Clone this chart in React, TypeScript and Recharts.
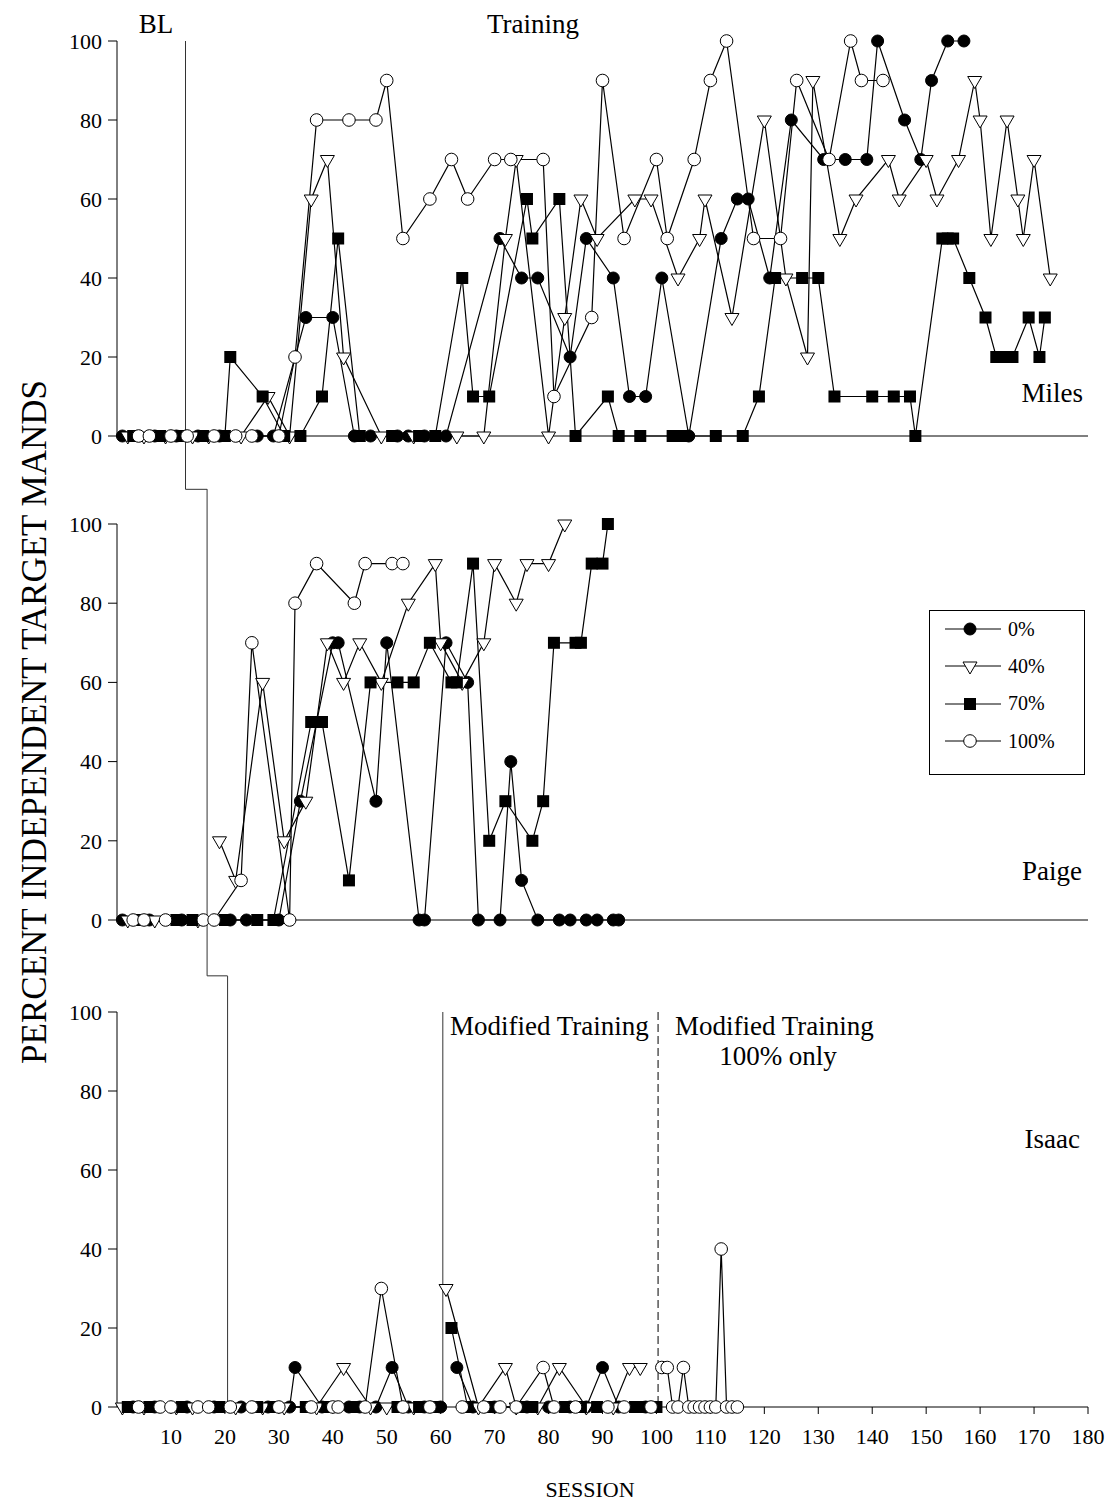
import React from 'react';
import { LineChart, Line, XAxis, YAxis, ReferenceLine } from 'recharts';

type Pt = [number, number];

const FONT = '"Liberation Serif", "Times New Roman", serif';

const conditions = ['0%', '40%', '70%', '100%'];
const xTicks = [10, 20, 30, 40, 50, 60, 70, 80, 90, 100, 110, 120, 130, 140, 150, 160, 170, 180];
const yTicks = [0, 20, 40, 60, 80, 100];

// Miles
const miles0: Pt[] = [[1, 0], [7, 0], [11, 0], [15, 0], [19, 0], [26, 0], [29, 0], [35, 30], [40, 30], [44, 0], [47, 0], [52, 0], [54, 0], [57, 0], [61, 0], [71, 50], [75, 40], [78, 40], [84, 20], [87, 50], [92, 40], [95, 10], [98, 10], [101, 40], [106, 0], [112, 50], [115, 60], [117, 60], [121, 40], [125, 80], [131, 70], [135, 70], [139, 70], [141, 100], [146, 80], [149, 70], [151, 90], [154, 100], [157, 100]];
const miles40: Pt[] = [[2, 0], [5, 0], [9, 0], [14, 0], [17, 0], [23, 0], [28, 10], [32, 0], [36, 60], [39, 70], [42, 20], [49, 0], [55, 0], [63, 0], [68, 0], [72, 50], [74, 70], [80, 0], [83, 30], [86, 60], [89, 50], [96, 60], [99, 60], [104, 40], [108, 50], [109, 60], [114, 30], [120, 80], [124, 40], [128, 20], [129, 90], [134, 50], [137, 60], [143, 70], [145, 60], [150, 70], [152, 60], [156, 70], [159, 90], [160, 80], [162, 50], [165, 80], [167, 60], [168, 50], [170, 70], [173, 40]];
const miles70: Pt[] = [[3, 0], [8, 0], [12, 0], [16, 0], [20, 0], [21, 20], [27, 10], [31, 0], [34, 0], [38, 10], [41, 50], [45, 0], [51, 0], [56, 0], [59, 0], [64, 40], [66, 10], [69, 10], [76, 60], [77, 50], [82, 60], [85, 0], [91, 10], [93, 0], [97, 0], [103, 0], [105, 0], [111, 0], [116, 0], [119, 10], [122, 40], [127, 40], [130, 40], [133, 10], [140, 10], [144, 10], [147, 10], [148, 0], [153, 50], [154, 50], [155, 50], [158, 40], [161, 30], [163, 20], [164, 20], [166, 20], [169, 30], [171, 20], [172, 30]];
const miles100: Pt[] = [[4, 0], [6, 0], [10, 0], [13, 0], [18, 0], [22, 0], [25, 0], [30, 0], [33, 20], [37, 80], [43, 80], [48, 80], [50, 90], [53, 50], [58, 60], [62, 70], [65, 60], [70, 70], [73, 70], [79, 70], [81, 10], [88, 30], [90, 90], [94, 50], [100, 70], [102, 50], [107, 70], [110, 90], [113, 100], [118, 50], [123, 50], [126, 90], [132, 70], [136, 100], [138, 90], [142, 90]];

// Paige
const paige0: Pt[] = [[1, 0], [6, 0], [12, 0], [21, 0], [24, 0], [30, 0], [34, 30], [40, 70], [41, 70], [48, 30], [50, 70], [56, 0], [57, 0], [61, 70], [65, 60], [67, 0], [71, 0], [73, 40], [75, 10], [78, 0], [82, 0], [84, 0], [87, 0], [89, 0], [92, 0], [93, 0]];
const paige40: Pt[] = [[2, 0], [7, 0], [15, 0], [19, 20], [22, 10], [27, 60], [31, 20], [35, 30], [39, 70], [42, 60], [45, 70], [49, 60], [54, 80], [59, 90], [60, 70], [64, 60], [68, 70], [70, 90], [74, 80], [76, 90], [80, 90], [83, 100]];
const paige70: Pt[] = [[4, 0], [11, 0], [14, 0], [20, 0], [26, 0], [29, 0], [36, 50], [38, 50], [43, 10], [47, 60], [52, 60], [55, 60], [58, 70], [62, 60], [63, 60], [66, 90], [69, 20], [72, 30], [77, 20], [79, 30], [81, 70], [85, 70], [86, 70], [88, 90], [90, 90], [91, 100]];
const paige100: Pt[] = [[3, 0], [5, 0], [9, 0], [16, 0], [18, 0], [23, 10], [25, 70], [32, 0], [33, 80], [37, 90], [44, 80], [46, 90], [51, 90], [53, 90]];

// Isaac
const isaac0: Pt[] = [[3, 0], [7, 0], [13, 0], [18, 0], [23, 0], [28, 0], [32, 0], [33, 10], [38, 0], [43, 0], [45, 0], [48, 0], [51, 10], [54, 0], [57, 0], [60, 0], [63, 10], [66, 0], [70, 0], [76, 0], [80, 0], [84, 0], [87, 0], [90, 10], [93, 0], [98, 0]];
const isaac40: Pt[] = [[1, 0], [5, 0], [11, 0], [14, 0], [22, 0], [27, 0], [31, 0], [37, 0], [42, 10], [47, 0], [50, 0], [55, 0], [61, 30], [67, 0], [72, 10], [74, 0], [78, 0], [82, 10], [87, 0], [92, 0], [95, 10], [97, 10]];
const isaac70: Pt[] = [[2, 0], [6, 0], [12, 0], [19, 0], [26, 0], [29, 0], [35, 0], [39, 0], [44, 0], [52, 0], [56, 0], [59, 0], [62, 20], [65, 0], [69, 0], [75, 0], [77, 0], [83, 0], [86, 0], [89, 0], [96, 0], [98, 0], [100, 0]];
const isaac100: Pt[] = [[4, 0], [8, 0], [10, 0], [15, 0], [17, 0], [21, 0], [25, 0], [30, 0], [36, 0], [40, 0], [41, 0], [46, 0], [49, 30], [53, 0], [58, 0], [64, 0], [68, 0], [71, 0], [74, 0], [79, 10], [81, 0], [85, 0], [91, 0], [94, 0], [99, 0], [101, 10], [102, 10], [103, 0], [104, 0], [105, 10], [106, 0], [107, 0], [108, 0], [109, 0], [110, 0], [111, 0], [112, 40], [113, 0], [114, 0], [115, 0]];

// phase change sessions
const milesCuts = [12.7];
const paigeCuts = [16.7];
const isaacCuts = [20.5, 60.4, 100.3];

const splitPhases = (pts: Pt[], cuts: number[]) => {
    const groups: { s: number; v: number }[][] = [[], ...cuts.map(() => [])];
    pts.forEach(([s, v]) => {
        const k = cuts.filter((c) => s > c).length;
        groups[k].push({ s, v });
    });
    return groups.filter((g) => g.length > 0);
};

function Marker({ kind, cx, cy }: { kind: number; cx: number; cy: number }) {
    if (kind === 0) return <circle cx={cx} cy={cy} r={6} fill="#000" stroke="#000" strokeWidth={1} />;
    if (kind === 1)
        return (
            <polygon
                points={`${cx - 7},${cy - 4} ${cx + 7},${cy - 4} ${cx},${cy + 8}`}
                fill="#fff"
                stroke="#000"
                strokeWidth={1}
            />
        );
    if (kind === 2) return <rect x={cx - 6} y={cy - 6} width={12} height={12} fill="#000" />;
    return <circle cx={cx} cy={cy} r={6.3} fill="#fff" stroke="#000" strokeWidth={1} />;
}

const tickText = { fill: '#000', fontSize: 22, fontFamily: FONT };

function Panel({
    top,
    height,
    margin,
    xAxisHeight,
    series,
    cuts,
    labels,
    children,
}: {
    top: number;
    height: number;
    margin: { top: number; right: number; bottom: number; left: number };
    xAxisHeight: number;
    series: Pt[][];
    cuts: number[];
    labels: boolean;
    children?: React.ReactNode;
}) {
    return (
        <div style={{ position: 'absolute', left: 0, top }}>
            <LineChart width={1112} height={height} margin={margin}>
                <XAxis
                    type="number"
                    dataKey="s"
                    domain={[0, 180]}
                    ticks={xTicks}
                    interval={0}
                    height={xAxisHeight}
                    axisLine={{ stroke: '#000' }}
                    tickLine={{ stroke: '#000' }}
                    tickSize={7}
                    tickMargin={14}
                    tick={labels ? tickText : false}
                />
                <YAxis
                    type="number"
                    domain={[0, 100]}
                    ticks={yTicks}
                    interval={0}
                    width={60}
                    axisLine={{ stroke: '#000' }}
                    tickLine={{ stroke: '#000' }}
                    tickSize={9}
                    tickMargin={6}
                    tick={tickText}
                />
                {children}
                {series.map((pts, i) =>
                    splitPhases(pts, cuts).map((rows, j) => (
                        <Line
                            key={`${i}-${j}`}
                            data={rows}
                            dataKey="v"
                            name={conditions[i]}
                            type="linear"
                            stroke="#000"
                            strokeWidth={1.2}
                            isAnimationActive={false}
                            activeDot={false}
                            dot={(p: any) => (
                                <Marker key={`d-${i}-${j}-${p.index}`} kind={i} cx={p.cx} cy={p.cy} />
                            )}
                        />
                    ))
                )}
            </LineChart>
        </div>
    );
}

const phaseStroke = '#333';

export default function App() {
    return (
        <div style={{ position: 'absolute', left: 0, top: 0, width: 1112, height: 1510, background: '#fff', fontFamily: FONT }}>
            <style>{'.recharts-surface{overflow:visible}.recharts-wrapper{overflow:visible}'}</style>
            <Panel
                top={0}
                height={500}
                margin={{ top: 41, right: 24, bottom: 34, left: 57 }}
                xAxisHeight={30}
                series={[miles0, miles40, miles70, miles100]}
                cuts={milesCuts}
                labels={false}
            >
                <ReferenceLine segment={[{ x: 12.7, y: 100 }, { x: 12.7, y: -13.5 }]} stroke={phaseStroke} ifOverflow="visible" />
                <ReferenceLine segment={[{ x: 12.7, y: -13.5 }, { x: 16.7, y: -13.5 }]} stroke={phaseStroke} ifOverflow="visible" />
            </Panel>
            <Panel
                top={480}
                height={510}
                margin={{ top: 44, right: 24, bottom: 40, left: 57 }}
                xAxisHeight={30}
                series={[paige0, paige40, paige70, paige100]}
                cuts={paigeCuts}
                labels={false}
            >
                <ReferenceLine segment={[{ x: 16.7, y: 108.8 }, { x: 16.7, y: -14.1 }]} stroke={phaseStroke} ifOverflow="visible" />
                <ReferenceLine segment={[{ x: 16.7, y: -14.1 }, { x: 20.5, y: -14.1 }]} stroke={phaseStroke} ifOverflow="visible" />
            </Panel>
            <Panel
                top={960}
                height={550}
                margin={{ top: 52, right: 24, bottom: 63, left: 57 }}
                xAxisHeight={40}
                series={[isaac0, isaac40, isaac70, isaac100]}
                cuts={isaacCuts}
                labels={true}
            >
                <ReferenceLine segment={[{ x: 20.5, y: 109.1 }, { x: 20.5, y: 0 }]} stroke={phaseStroke} ifOverflow="visible" />
                <ReferenceLine segment={[{ x: 60.4, y: 100 }, { x: 60.4, y: 0 }]} stroke={phaseStroke} ifOverflow="visible" />
                <ReferenceLine
                    segment={[{ x: 100.3, y: 100 }, { x: 100.3, y: 0 }]}
                    stroke="#000"
                    strokeDasharray="8 4"
                    ifOverflow="visible"
                />
            </Panel>

            <svg
                width={1112}
                height={1510}
                style={{ position: 'absolute', left: 0, top: 0, pointerEvents: 'none' }}
                fontFamily={FONT}
                fill="#000"
            >
                <text x={156} y={33} fontSize={27} textAnchor="middle">BL</text>
                <text x={533} y={33} fontSize={27} textAnchor="middle">Training</text>
                <text x={1083} y={402} fontSize={27} textAnchor="end">Miles</text>
                <text x={1082} y={880} fontSize={27} textAnchor="end">Paige</text>
                <text x={1080} y={1148} fontSize={27} textAnchor="end">Isaac</text>
                <text x={450} y={1035} fontSize={27}>Modified Training</text>
                <text x={675} y={1035} fontSize={27}>Modified Training</text>
                <text x={778} y={1065} fontSize={27} textAnchor="middle">100% only</text>
                <text x={590} y={1497} fontSize={22} textAnchor="middle">SESSION</text>
                <text transform="translate(46,722) rotate(-90)" fontSize={35} textAnchor="middle">
                    PERCENT INDEPENDENT TARGET MANDS
                </text>
            </svg>

            <div
                style={{
                    position: 'absolute',
                    left: 929,
                    top: 610,
                    width: 156,
                    height: 165,
                    border: '1px solid #000',
                    boxSizing: 'border-box',
                    background: '#fff',
                }}
            >
                {conditions.map((c, i) => (
                    <div
                        key={c}
                        style={{ position: 'absolute', left: 0, top: 5 + i * 37.4, height: 26, display: 'flex', alignItems: 'center' }}
                    >
                        <svg width={78} height={26}>
                            <line x1={15} y1={13} x2={71} y2={13} stroke="#000" />
                            <Marker kind={i} cx={40} cy={13} />
                        </svg>
                        <span style={{ fontSize: 20, fontFamily: FONT, color: '#000' }}>{c}</span>
                    </div>
                ))}
            </div>
        </div>
    );
}
